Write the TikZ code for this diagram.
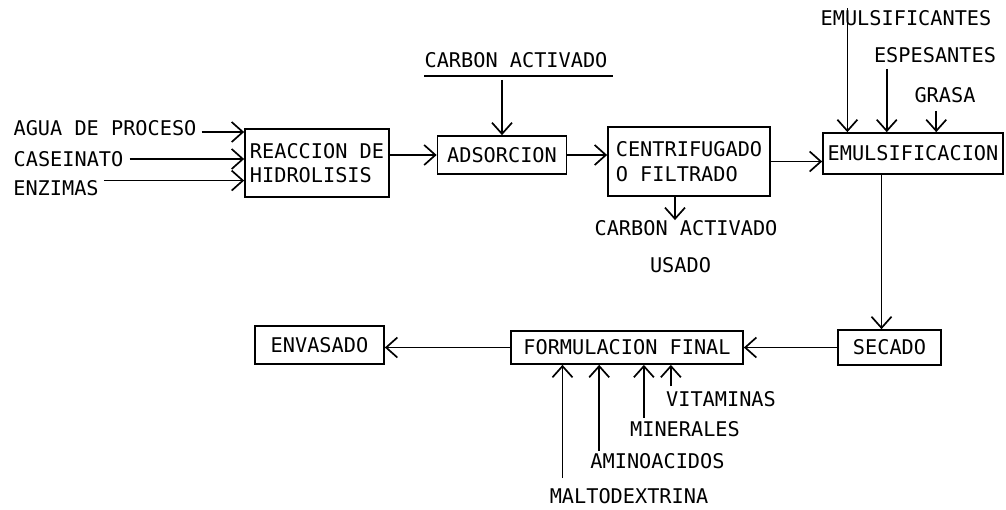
\documentclass[tikz,border=0pt]{standalone}
\usepackage{fontspec}
\setmonofont{DejaVu Sans Mono}
\usetikzlibrary{positioning,arrows.meta}
\tikzset{
  flow/.style={-{Straight Barb[length=2.8mm, width=5mm]}, line width=1.2pt},
  plain/.style={line width=1.2pt},
  procbox/.style={draw, line width=1.2pt, inner sep=2pt, align=left},
  feed/.style={inner sep=0pt, anchor=center}
}

\begin{document}
\begin{tikzpicture}[x=0.025cm, y=-0.025cm, every node/.style={font=\ttfamily\fontsize{14.4}{17.5}\selectfont}]
      \useasboundingbox (0,0) rectangle (1006,509);
      % process boxes
      \node[procbox, minimum width=3.6cm, minimum height=1.7cm] (reac) at (317,163) {REACCION DE\\HIDROLISIS};
      \node[procbox, minimum width=3.225cm, minimum height=0.95cm] (adso) at (502,155) {ADSORCION};
      \node[procbox, minimum width=4.05cm, minimum height=1.725cm] (cent) at (689,161.5) {CENTRIFUGADO\\O FILTRADO};
      \node[procbox, minimum width=4.5cm, minimum height=1.025cm] (emul) at (913,153.5) {EMULSIFICACION};
      \node[procbox, minimum width=2.575cm, minimum height=0.875cm] (seca) at (889.5,347.5) {SECADO};
      \node[procbox, minimum width=5.8cm, minimum height=0.825cm] (form) at (627,347.5) {FORMULACION FINAL};
      \node[procbox, minimum width=3.225cm, minimum height=0.95cm] (enva) at (319.5,345) {ENVASADO};
      % feeds
      \node[feed] (agua) at (105,128.5) {AGUA DE PROCESO};
      \node[feed] (case) at (68.5,159) {CASEINATO};
      \node[feed] (enzi) at (56,188.5) {ENZIMAS};
      \node[feed] (cact) at (516,60) {CARBON ACTIVADO};
      \node[feed] (emuA) at (906,18) {EMULSIFICANTES};
      \node[feed] (espe) at (935,55) {ESPESANTES};
      \node[feed] (gras) at (945,95) {GRASA};
      \node[feed] (coutA) at (686,228) {CARBON ACTIVADO};
      \node[feed] (coutB) at (680.5,265) {USADO};
      \node[feed] (malt) at (629,496) {MALTODEXTRINA};
      \node[feed] (amin) at (657.5,461) {AMINOACIDOS};
      \node[feed] (mine) at (685,429) {MINERALES};
      \node[feed] (vita) at (721,399) {VITAMINAS};
      % connectors
      \draw[flow] ([shift={(0.12cm,-2.5pt)}]agua.east) -- ([yshift=-2.5pt]agua.east -| reac.west);
      \draw[flow] ([xshift=0.15cm]case.east) -- (case.east -| reac.west);
      \draw[flow] ([xshift=0.12cm]enzi.north east) -- (enzi.north east -| reac.west);
      \draw[flow] (reac.east |- adso.west) -- (adso.west);
      \draw[flow] (adso.east) -- (adso.east -| cent.west);
      \draw[flow] (cent.east) -- (cent.east -| emul.west);
      \draw[plain] ([yshift=-0.2cm]cact.south west) -- ([shift={(0.12cm,-0.2cm)}]cact.south east);
      \draw[flow] ([yshift=-0.3cm]adso.north |- cact.south) -- (adso.north);
      \draw[flow] ([shift={(0.675cm,0.05cm)}]emuA.north west) -- ([xshift=0.675cm]emuA.north west |- emul.north);
      \draw[flow] ([shift={(0.325cm,-0.15cm)}]espe.south west) -- ([xshift=0.325cm]espe.south west |- emul.north);
      \draw[flow] ([shift={(0.55cm,-0.2cm)}]gras.south west) -- ([xshift=0.55cm]gras.south west |- emul.north);
      \draw[flow] ([xshift=-0.35cm]cent.south) -- ([xshift=-0.35cm]cent.south |- coutA.north);
      \draw[flow] ([xshift=-0.2cm]seca.north |- emul.south) -- ([xshift=-0.2cm]seca.north);
      \draw[flow] (seca.west) -- (form.east);
      \draw[flow] (form.west) -- (form.west -| enva.east);
      \draw[flow] ([shift={(0.325cm,0.25cm)}]malt.north west) -- ([xshift=0.325cm]malt.north west |- form.south);
      \draw[flow] ([shift={(0.225cm,0.05cm)}]amin.north west) -- ([xshift=0.225cm]amin.north west |- form.south);
      \draw[flow] ([shift={(0.35cm,0.08cm)}]mine.north west) -- ([xshift=0.35cm]mine.north west |- form.south);
      \draw[flow] ([shift={(0.125cm,0.12cm)}]vita.north west) -- ([xshift=0.125cm]vita.north west |- form.south);
    \end{tikzpicture}
\end{document}
